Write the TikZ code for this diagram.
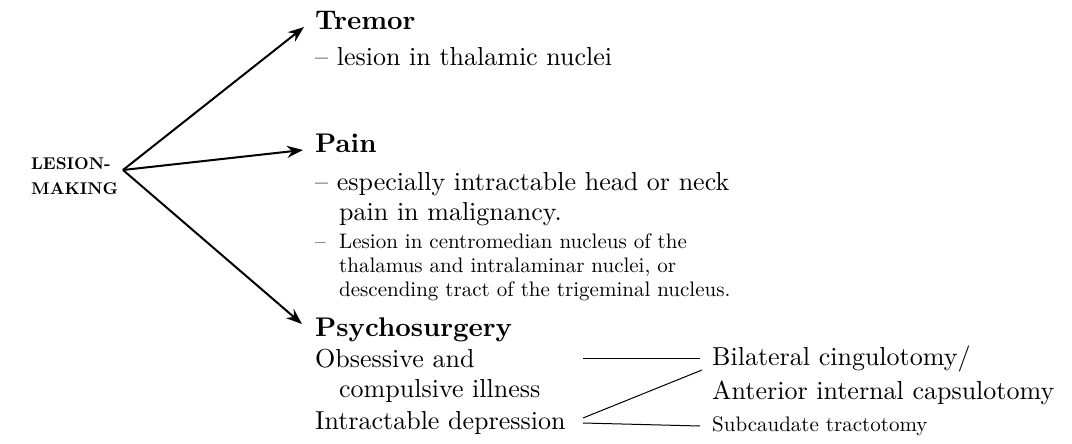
\documentclass[tikz,border=0pt]{standalone}
\usepackage{fontspec}
\setmainfont{lmroman10-regular.otf}[BoldFont=lmroman10-bold.otf]
\usetikzlibrary{arrows.meta}

\begin{document}
\begin{tikzpicture}[x=1pt,y=-1pt,
  txt/.style={anchor=base west, inner sep=0pt, font=\fontsize{26}{31}\selectfont},
  sml/.style={anchor=base west, inner sep=0pt, font=\fontsize{21}{25}\selectfont},
  head/.style={anchor=base west, inner sep=0pt, font=\fontsize{27}{31}\selectfont\bfseries},
  arr/.style={line width=2pt, -{Stealth[length=16pt,width=12pt]}},
  lnk/.style={line width=1pt}]
\useasboundingbox (0,0) rectangle (1072,444);
% left label
\node[head, font=\fontsize{17}{24}\selectfont\bfseries] (lesion) at (31,169) {LESION-};
\node[head, font=\fontsize{17}{24}\selectfont\bfseries] (making) at (31,194) {MAKING};
\coordinate (hub) at (123,170);
% tremor
\node[head] (tremor) at (315,30) {Tremor};
\node[txt] (tremor1) at (315,66) {-- lesion in thalamic nuclei};
% pain
\node[head] (pain) at (315,152) {Pain};
\node[txt] (pain1) at (315,190) {-- especially intractable head or neck};
\node[txt] (pain2) at (339,220) {pain in malignancy.};
\node[sml] (pain3) at (315,248) {--};
\node[sml] (pain4) at (339,248) {Lesion in centromedian nucleus of the};
\node[sml] (pain5) at (339,272) {thalamus and intralaminar nuclei, or};
\node[sml] (pain6) at (339,296) {descending tract of the trigeminal nucleus.};
% psychosurgery
\node[head] (psych) at (315,336) {Psychosurgery};
\node[txt] (obs) at (315,367) {Obsessive and};
\node[txt] (comp) at (339,397) {compulsive illness};
\node[txt] (dep) at (315,429) {Intractable depression};
\node[txt] (cing) at (712,365) {Bilateral cingulotomy/};
\node[txt] (caps) at (712,399) {Anterior internal capsulotomy};
\node[sml] (subc) at (712,431) {Subcaudate tractotomy};
% arrows
\draw[arr] (hub) -- ([xshift=-11pt,yshift=3pt]tremor.base west);
\draw[arr] (hub) -- ([xshift=-12pt,yshift=2pt]pain.base west);
\draw[arr] (hub) -- ([xshift=-13pt,yshift=12pt]psych.base west);
% links
\coordinate (a1) at (583,358);
\coordinate (a2) at (583,418);
\coordinate (a3) at (583,423);
\draw[lnk] (a1) -- ([xshift=-12pt,yshift=7pt]cing.base west);
\draw[lnk] (a2) -- ([xshift=-10pt,yshift=-5pt]cing.base west);
\draw[lnk] (a3) -- ([xshift=-12pt,yshift=5pt]subc.base west);
\end{tikzpicture}
\end{document}
